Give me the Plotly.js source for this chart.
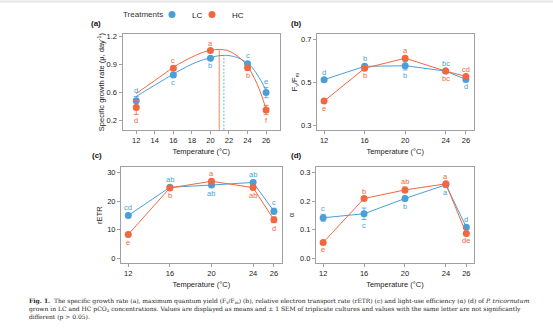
<!DOCTYPE html>
<html><head><meta charset="utf-8">
<script src="https://cdn.plot.ly/plotly-3.0.1.min.js"></script>
<style>html,body{margin:0;padding:0;background:#fff}</style>
</head><body><div id="chart" style="width:553px;height:328px"></div>
<script>
// ---------- data ----------
const temps = [12, 16, 20, 24, 26];

// (a) specific growth rate
const a_LC = [0.513, 0.789, 0.967, 0.910, 0.601];
const a_LC_err = [0.045, 0.02, 0.015, 0.02, 0.055];
const a_HC = [0.442, 0.861, 1.052, 0.867, 0.414];
const a_HC_err = [0.075, 0.02, 0.015, 0.02, 0.05];
const a_LC_let = ['d', 'c', 'b', 'c', 'e'];
const a_LC_pos = ['up', 'down', 'down', 'up', 'up'];
const a_HC_let = ['d', 'c', 'a', 'b', 'f'];
const a_HC_pos = ['down', 'up', 'up', 'down', 'down'];
// fitted curves
const fitT = [12, 13, 14, 15, 16, 17, 18, 19, 20, 20.5, 21, 21.5, 22, 23, 24, 24.5, 25, 25.5, 26];
const fit_HC = [0.59, 0.66, 0.73, 0.80, 0.87, 0.93, 0.98, 1.025, 1.052, 1.06, 1.063, 1.058, 1.045, 0.985, 0.885, 0.80, 0.70, 0.575, 0.42];
const fit_LC = [0.56, 0.62, 0.68, 0.74, 0.80, 0.855, 0.905, 0.945, 0.972, 0.988, 0.996, 0.999, 0.996, 0.972, 0.915, 0.87, 0.80, 0.72, 0.62];
const optT_HC = 20.95, optY_HC = 1.063;
const optT_LC = 21.45, optY_LC = 0.999;

// (b) Fv/Fm
const b_LC = [0.513, 0.575, 0.578, 0.553, 0.514];
const b_LC_err = [0.005, 0.008, 0.02, 0.005, 0.005];
const b_HC = [0.413, 0.566, 0.613, 0.553, 0.528];
const b_HC_err = [0.006, 0.006, 0.006, 0.005, 0.005];
const b_LC_let = ['d', 'b', 'b', 'bc', 'd'];
const b_LC_pos = ['up', 'up', 'down', 'up', 'down'];
const b_HC_let = ['e', 'b', 'a', 'bc', 'cd'];
const b_HC_pos = ['down', 'down', 'up', 'down', 'up'];

// (c) rETR
const c_LC = [15.0, 24.8, 25.6, 26.5, 16.5];
const c_LC_err = [0.6, 0.5, 0.8, 0.6, 1.0];
const c_HC = [8.4, 24.6, 26.9, 24.7, 13.5];
const c_HC_err = [0.6, 0.5, 0.7, 0.6, 1.0];
const c_LC_let = ['cd', 'ab', 'ab', 'ab', 'c'];
const c_LC_pos = ['up', 'up', 'down', 'up', 'up'];
const c_HC_let = ['e', 'b', 'a', 'ab', 'd'];
const c_HC_pos = ['down', 'down', 'up', 'down', 'down'];

// (d) alpha
const d_LC = [0.142, 0.156, 0.209, 0.257, 0.109];
const d_LC_err = [0.012, 0.02, 0.008, 0.005, 0.005];
const d_HC = [0.056, 0.209, 0.239, 0.260, 0.087];
const d_HC_err = [0.004, 0.004, 0.01, 0.005, 0.004];
const d_LC_let = ['c', 'c', 'b', 'a', 'd'];
const d_LC_pos = ['up', 'down', 'down', 'down', 'up'];
const d_HC_let = ['e', 'b', 'ab', 'a', 'de'];
const d_HC_pos = ['down', 'up', 'up', 'up', 'down'];

const yTicksA = [0.3, 0.6, 0.9, 1.2];
const yTickTextA = ['0.2', '0.6', '0.9', '1.2'];

// ---------- style ----------
const BLUE = '#4a9fd8', ORANGE = '#f26740';
const FONT = 'Arial, "Liberation Sans", sans-serif';
const W = 553, H = 328;

const traces = [];
const annotations = [];

function series(xa, ya, y, err, color, name, mode, legend, legendId) {
  const t = {
    type: 'scatter', x: temps, y: y, xaxis: xa, yaxis: ya, name: name,
    mode: mode, showlegend: legend, legendgroup: name,
    line: {color: color, width: 1},
    marker: {color: color, size: 7, line: {width: 0}},
    error_y: {type: 'data', array: err, visible: true, color: color, thickness: 0.8, width: 2.5}
  };
  if (legendId) t.legend = legendId;
  traces.push(t);
}
function letters(xa, ya, y, err, lets, pos, color) {
  for (let i = 0; i < temps.length; i++) {
    const up = pos[i] === 'up';
    annotations.push({
      xref: xa, yref: ya, x: temps[i], y: up ? y[i] + err[i] : y[i] - err[i],
      text: lets[i], showarrow: false, yshift: up ? 6 : -6,
      font: {family: FONT, size: 7.5, color: color}, xanchor: 'center', yanchor: 'middle'
    });
  }
}

// (a)
traces.push({type: 'scatter', x: fitT, y: fit_LC, xaxis: 'x', yaxis: 'y', mode: 'lines', showlegend: false,
  line: {color: BLUE, width: 1, shape: 'spline'}, hoverinfo: 'skip'});
traces.push({type: 'scatter', x: fitT, y: fit_HC, xaxis: 'x', yaxis: 'y', mode: 'lines', showlegend: false,
  line: {color: ORANGE, width: 1, shape: 'spline'}, hoverinfo: 'skip'});
const aYmin = 0.201;
traces.push({type: 'scatter', x: [optT_HC, optT_HC], y: [aYmin, optY_HC], xaxis: 'x', yaxis: 'y', mode: 'lines',
  showlegend: false, line: {color: ORANGE, width: 0.8}});
traces.push({type: 'scatter', x: [optT_LC, optT_LC], y: [aYmin, optY_LC], xaxis: 'x', yaxis: 'y', mode: 'lines',
  showlegend: false, line: {color: BLUE, width: 0.8, dash: '2px,1.5px'}});
series('x', 'y', a_LC, a_LC_err, BLUE, 'LC', 'markers', true, 'legend');
series('x', 'y', a_HC, a_HC_err, ORANGE, 'HC', 'markers', true, 'legend2');
letters('x', 'y', a_LC, a_LC_err, a_LC_let, a_LC_pos, BLUE);
letters('x', 'y', a_HC, a_HC_err, a_HC_let, a_HC_pos, ORANGE);
// (b)
series('x2', 'y2', b_LC, b_LC_err, BLUE, 'LC', 'lines+markers', false);
series('x2', 'y2', b_HC, b_HC_err, ORANGE, 'HC', 'lines+markers', false);
letters('x2', 'y2', b_LC, b_LC_err, b_LC_let, b_LC_pos, BLUE);
letters('x2', 'y2', b_HC, b_HC_err, b_HC_let, b_HC_pos, ORANGE);
// (c)
series('x3', 'y3', c_LC, c_LC_err, BLUE, 'LC', 'lines+markers', false);
series('x3', 'y3', c_HC, c_HC_err, ORANGE, 'HC', 'lines+markers', false);
letters('x3', 'y3', c_LC, c_LC_err, c_LC_let, c_LC_pos, BLUE);
letters('x3', 'y3', c_HC, c_HC_err, c_HC_let, c_HC_pos, ORANGE);
// (d)
series('x4', 'y4', d_LC, d_LC_err, BLUE, 'LC', 'lines+markers', false);
series('x4', 'y4', d_HC, d_HC_err, ORANGE, 'HC', 'lines+markers', false);
letters('x4', 'y4', d_LC, d_LC_err, d_LC_let, d_LC_pos, BLUE);
letters('x4', 'y4', d_HC, d_HC_err, d_HC_let, d_HC_pos, ORANGE);

// panel labels
const panelLabels = [['(a)', 89, 23], ['(b)', 289, 23], ['(c)', 90, 155], ['(d)', 289, 155]];
panelLabels.forEach(p => annotations.push({xref: 'paper', yref: 'paper', x: p[1] / W, y: 1 - p[2] / H,
  text: '<b>' + p[0] + '</b>', showarrow: false, xanchor: 'left', yanchor: 'middle',
  font: {family: FONT, size: 8, color: '#111'}}));

// legend title
annotations.push({xref: 'paper', yref: 'paper', x: 121 / W, y: 1 - 13.3 / H, text: 'Treatments',
  showarrow: false, xanchor: 'left', yanchor: 'middle', font: {family: FONT, size: 8, color: '#333'}});

// caption
const capLines = [
  '<b>Fig. 1.</b>  The specific growth rate (a), maximum quantum yield (F<sub>v</sub>/F<sub>m</sub>) (b), relative electron transport rate (rETR) (c) and light-use efficiency (α) (d) of <i>P. tricornutum</i>',
  'grown in LC and HC pCO<sub>2</sub> concentrations. Values are displayed as means and ± 1 SEM of triplicate cultures and values with the same letter are not significantly',
  'different (p &gt; 0.05).'
];
annotations.push({xref: 'paper', yref: 'paper', x: 27 / W, y: 1 - 309.3 / H,
  text: capLines.join('<br>'), showarrow: false, xanchor: 'left', yanchor: 'middle', align: 'left',
  font: {family: '"DejaVu Serif", serif', size: 6.0, color: '#222'}});

function xax(domain, range, ticks, title) {
  return {domain: domain, range: range, tickvals: ticks, showline: true, mirror: true, linecolor: '#a0a0a0',
    linewidth: 1, ticks: 'outside', ticklen: 3, tickcolor: '#a0a0a0', showgrid: false, zeroline: false,
    tickfont: {family: FONT, size: 7.5, color: '#222'},
    title: {text: title, font: {family: FONT, size: 7.5, color: '#222'}, standoff: 4}};
}
function yax(domain, range, ticks, title, standoff) {
  return {domain: domain, range: range, tickvals: ticks, showline: true, mirror: true, linecolor: '#a0a0a0',
    linewidth: 1, ticks: 'outside', ticklen: 3, tickcolor: '#a0a0a0', showgrid: false, zeroline: false,
    tickfont: {family: FONT, size: 7.5, color: '#222'},
    title: {text: title, font: {family: FONT, size: 7.5, color: '#222'}, standoff: standoff}};
}

const yA = yax([1 - 129.3 / H, 1 - 33.3 / H], [0.201, 1.2255], yTicksA, 'Specific growth rate (μ, day<sup>-1</sup>)', 0);
yA.ticktext = yTickTextA;

const legStyle = {orientation: 'h', xanchor: 'left', yanchor: 'middle', y: 1 - 13.3 / H,
  font: {family: FONT, size: 8, color: '#222'}, bgcolor: 'rgba(0,0,0,0)', borderwidth: 0, itemwidth: 30};

const layout = {
  width: W, height: H, margin: {l: 0, r: 0, t: 0, b: 0},
  paper_bgcolor: '#fff', plot_bgcolor: '#fff',
  font: {family: FONT, color: '#222'},
  xaxis: xax([122.5 / W, 280 / W], [10.52, 27.5], [12, 14, 16, 18, 20, 22, 24, 26], 'Temperature (°C)'),
  yaxis: yA,
  xaxis2: Object.assign(xax([317 / W, 473.5 / W], [11.3, 26.75], temps, 'Temperature (°C)'), {anchor: 'y2'}),
  yaxis2: Object.assign(yax([1 - 129.3 / H, 1 - 33.3 / H], [0.2786, 0.725], [0.3, 0.5, 0.7], 'F<sub>v</sub>/F<sub>m</sub>', 2), {anchor: 'x2'}),
  xaxis3: Object.assign(xax([121 / W, 281.7 / W], [11.3, 26.75], temps, 'Temperature (°C)'), {anchor: 'y3'}),
  yaxis3: Object.assign(yax([1 - 262.7 / H, 1 - 167 / H], [-1.5, 31.7], [0, 10, 20, 30], 'rETR', 3), {anchor: 'x3'}),
  xaxis4: Object.assign(xax([316 / W, 474 / W], [11.3, 26.75], temps, 'Temperature (°C)'), {anchor: 'y4'}),
  yaxis4: Object.assign(yax([1 - 262.7 / H, 1 - 167 / H], [-0.015, 0.317], [0.0, 0.1, 0.2, 0.3], 'α', 4), {anchor: 'x4'}),
  legend: Object.assign({}, legStyle, {x: 152 / W}),
  legend2: Object.assign({}, legStyle, {x: 192 / W}),
  annotations: annotations,
  shapes: [{type: 'line', xref: 'paper', yref: 'paper', x0: 0, x1: 1, y0: 1 - 0.5 / H, y1: 1 - 0.5 / H,
    line: {color: '#e6e6e6', width: 2}}],
  showlegend: true
};
layout.yaxis4.tickformat = '.1f';

Plotly.newPlot('chart', traces, layout, {staticPlot: true, displayModeBar: false});
</script></body></html>
